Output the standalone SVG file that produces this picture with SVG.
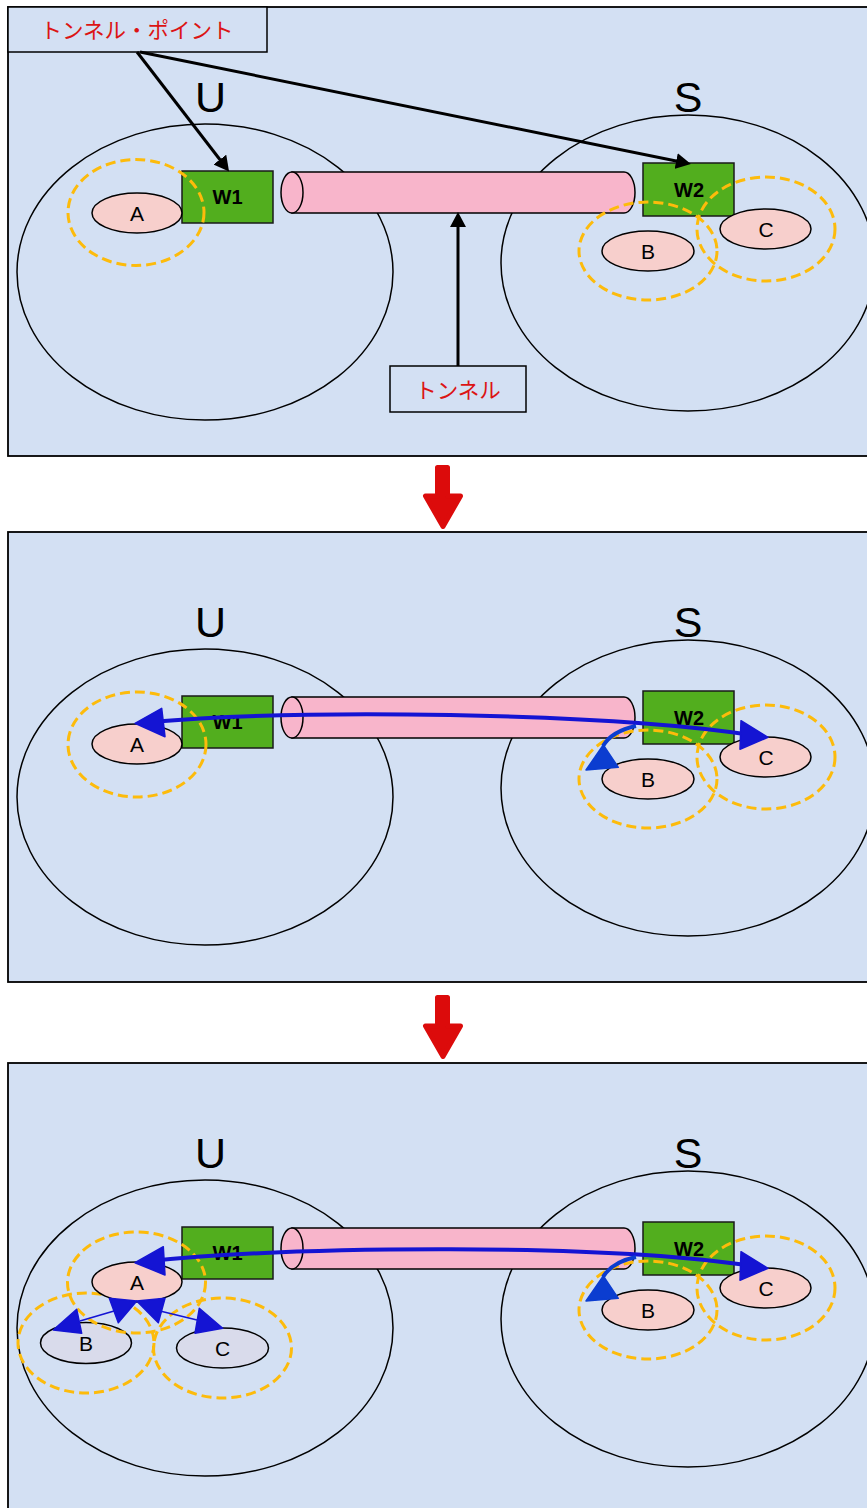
<svg xmlns="http://www.w3.org/2000/svg" width="867" height="1508" viewBox="0 0 867 1508">
<style>
.panel{fill:#d3e0f3;stroke:#000;stroke-width:1.8}
.domain{fill:none;stroke:#000;stroke-width:1.5}
.dlabel{font-family:"Liberation Sans",Arial,sans-serif;font-size:43px;fill:#000;text-anchor:middle}
.tube{fill:#f8b5cb;stroke:#000;stroke-width:1.5}
.gw{fill:#52ae1e;stroke:#1a1a1a;stroke-width:1.5}
.gwt{font-family:"Liberation Sans",Arial,sans-serif;font-weight:bold;font-size:20px;text-anchor:middle;fill:#000}
.host{fill:#f7cfcc;stroke:#000;stroke-width:1.5}
.host2{fill:#d9dbeb;stroke:#000;stroke-width:1.5}
.ht{font-family:"Liberation Sans",Arial,sans-serif;font-size:21px;text-anchor:middle;fill:#000}
.ring{fill:none;stroke:#fdbb0b;stroke-width:3;stroke-dasharray:10 5}
.note{fill:#d3e0f3;stroke:#000;stroke-width:1.5}
.nt{font-family:"Liberation Sans","Noto Sans CJK JP",sans-serif;font-size:21.5px;fill:#dc1414;text-anchor:middle}
.ptr{fill:none;stroke:#000;stroke-width:3}
.flow{fill:none;stroke:#1414d3;stroke-width:4}
.flowb{fill:none;stroke:#0b3dd0;stroke-width:4}
.hd{fill:#1414d3;stroke:#1414d3;stroke-width:1.5;stroke-linejoin:round}
.hdb{fill:#0b3dd0;stroke:#0b3dd0;stroke-width:1.5;stroke-linejoin:round}
.thin{fill:none;stroke:#1414d3;stroke-width:1.6}
.step{fill:#dc0b0b;stroke:#dc0b0b;stroke-width:5;stroke-linejoin:round}
</style>
<defs>
  <marker id="ah" viewBox="0 0 15 16" refX="10" refY="8" markerWidth="15" markerHeight="16" markerUnits="userSpaceOnUse" orient="auto">
    <path d="M0,0 L15,8 L0,16 z" fill="#000"/>
  </marker>
  <path id="stepArrow" d="M437.5,467.5 H447.5 V496 H460.5 L443,526.5 L425.5,496 H437.5 Z"/>
</defs>

<!-- backgrounds -->
<rect class="panel" x="8" y="7" width="870" height="449"/>
<rect class="panel" x="8" y="532" width="870" height="450"/>
<rect class="panel" x="8" y="1063" width="870" height="460"/>

<!-- stage 1 -->
<g id="stage1">
  <g id="s1-U"><ellipse class="domain" cx="205" cy="272" rx="188" ry="148"/><text class="dlabel" x="210.5" y="112">U</text></g>
  <g id="s1-S"><ellipse class="domain" cx="688" cy="263" rx="187" ry="148"/><text class="dlabel" x="688" y="112">S</text></g>
  <g id="s1-tunnel"><path class="tube" d="M292,172 H624 A11,20.5 0 0 1 624,213 H292 Z"/><ellipse class="tube" cx="292" cy="192.5" rx="11" ry="20.5"/></g>
  <g id="s1-W1"><rect class="gw" x="182" y="171" width="91" height="52"/><text class="gwt" x="227.5" y="204">W1</text></g>
  <g id="s1-W2"><rect class="gw" x="643" y="163" width="91" height="53"/><text class="gwt" x="689" y="197">W2</text></g>
  <g id="s1-A"><ellipse class="host" cx="137" cy="213" rx="45" ry="20"/><text class="ht" x="137" y="220.5">A</text></g>
  <g id="s1-B"><ellipse class="host" cx="648" cy="251" rx="46" ry="20"/><text class="ht" x="648" y="258.5">B</text></g>
  <g id="s1-C"><ellipse class="host" cx="765.5" cy="229" rx="45.5" ry="20"/><text class="ht" x="766" y="236.5">C</text></g>
  <g id="s1-rings">
    <ellipse class="ring" cx="136" cy="212.5" rx="68" ry="53"/>
    <ellipse class="ring" cx="648" cy="251" rx="69" ry="49"/>
    <ellipse class="ring" cx="766" cy="229" rx="69" ry="52"/>
  </g>
  <g id="s1-tp-label"><rect class="note" x="8" y="7" width="259" height="45"/><text class="nt" x="137" y="37.5">トンネル・ポイント</text></g>
  <g id="s1-t-label"><rect class="note" x="390" y="366" width="136" height="46"/><text class="nt" x="458" y="398">トンネル</text></g>
  <g id="s1-connectors">
    <path class="ptr" d="M137,52 L226,167.5" marker-end="url(#ah)"/>
    <path class="ptr" d="M140,52 L686,163" marker-end="url(#ah)"/>
    <path class="ptr" d="M458,366 L458,217" marker-end="url(#ah)"/>
  </g>
</g>

<!-- step arrows -->
<g id="steps">
  <use href="#stepArrow" class="step"/>
  <use href="#stepArrow" class="step" transform="translate(0,530)"/>
</g>

<!-- stage 2 -->
<g id="stage2" transform="translate(0,525)">
  <g id="s2-U"><ellipse class="domain" cx="205" cy="272" rx="188" ry="148"/><text class="dlabel" x="210.5" y="112">U</text></g>
  <g id="s2-S"><ellipse class="domain" cx="688" cy="263" rx="187" ry="148"/><text class="dlabel" x="688" y="112">S</text></g>
  <g id="s2-tunnel"><path class="tube" d="M292,172 H624 A11,20.5 0 0 1 624,213 H292 Z"/><ellipse class="tube" cx="292" cy="192.5" rx="11" ry="20.5"/></g>
  <g id="s2-W1"><rect class="gw" x="182" y="171" width="91" height="52"/><text class="gwt" x="227.5" y="204">W1</text></g>
  <g transform="translate(0,6)">
    <g id="s2-A"><ellipse class="host" cx="137" cy="213" rx="45" ry="20"/><text class="ht" x="137" y="220.5">A</text></g>
    <ellipse class="ring" cx="137" cy="213.5" rx="69" ry="52.5"/>
  </g>
  <g transform="translate(0,3)">
    <g id="s2-W2"><rect class="gw" x="643" y="163" width="91" height="53"/><text class="gwt" x="689" y="197">W2</text></g>
    <g id="s2-B"><ellipse class="host" cx="648" cy="251" rx="46" ry="20"/><text class="ht" x="648" y="258.5">B</text></g>
    <g id="s2-C"><ellipse class="host" cx="765.5" cy="229" rx="45.5" ry="20"/><text class="ht" x="766" y="236.5">C</text></g>
    <ellipse class="ring" cx="648" cy="251" rx="69" ry="49"/>
    <ellipse class="ring" cx="766" cy="229" rx="69" ry="52"/>
  </g>
  <g id="s2-connectors">
    <path class="flow" d="M150,197 C300,184 600,187 752,210"/>
    <polygon class="hd" points="768,212.3 741,195.7 740,224.3"/>
    <polygon class="hd" points="135,198.3 161.7,183.3 165,211.7"/>
    <path class="flowb" d="M636,201 Q612,206 603,221"/>
    <polygon class="hdb" points="586,245 603.3,220 618.3,242.3"/>
  </g>
</g>

<!-- stage 3 -->
<g id="stage3" transform="translate(0,1056)">
  <g id="s3-U"><ellipse class="domain" cx="205" cy="272" rx="188" ry="148"/><text class="dlabel" x="210.5" y="112">U</text></g>
  <g id="s3-S"><ellipse class="domain" cx="688" cy="263" rx="187" ry="148"/><text class="dlabel" x="688" y="112">S</text></g>
  <g id="s3-tunnel"><path class="tube" d="M292,172 H624 A11,20.5 0 0 1 624,213 H292 Z"/><ellipse class="tube" cx="292" cy="192.5" rx="11" ry="20.5"/></g>
  <g id="s3-W1"><rect class="gw" x="182" y="171" width="91" height="52"/><text class="gwt" x="227.5" y="204">W1</text></g>
  <g id="s3-B-local"><ellipse class="host2" cx="86" cy="287" rx="45.5" ry="20.5"/><text class="ht" x="86" y="294.5">B</text></g>
  <g id="s3-C-local"><ellipse class="host2" cx="222.5" cy="292" rx="46" ry="20"/><text class="ht" x="222.5" y="299.5">C</text></g>
  <ellipse class="ring" cx="86" cy="287" rx="68" ry="50"/>
  <ellipse class="ring" cx="222.5" cy="292" rx="69" ry="50"/>
  <g transform="translate(0,13)">
    <g id="s3-A"><ellipse class="host" cx="137" cy="213" rx="45" ry="20"/><text class="ht" x="137" y="220.5">A</text></g>
    <ellipse class="ring" cx="136.5" cy="213.5" rx="69" ry="50.5"/>
  </g>
  <g transform="translate(0,3)">
    <g id="s3-W2"><rect class="gw" x="643" y="163" width="91" height="53"/><text class="gwt" x="689" y="197">W2</text></g>
    <g id="s3-B"><ellipse class="host" cx="648" cy="251" rx="46" ry="20"/><text class="ht" x="648" y="258.5">B</text></g>
    <g id="s3-C"><ellipse class="host" cx="765.5" cy="229" rx="45.5" ry="20"/><text class="ht" x="766" y="236.5">C</text></g>
    <ellipse class="ring" cx="648" cy="251" rx="69" ry="49"/>
    <ellipse class="ring" cx="766" cy="229" rx="69" ry="52"/>
  </g>
  <g id="s3-connectors">
    <path class="flow" d="M150,205 C300,190 600,187 752,210"/>
    <polygon class="hd" points="768,212.3 741,195.7 740,224.3"/>
    <polygon class="hd" points="135,206.7 163.3,190.7 165,219"/>
    <path class="flowb" d="M636,201 Q612,206 603,221"/>
    <polygon class="hdb" points="586,245 603.3,220 618.3,242.3"/>
    <path class="thin" d="M80,265 L114,255"/>
    <path class="thin" d="M160,255 L197,264"/>
    <polygon class="hd" points="53.3,274 76.7,253.3 81.7,277.3"/>
    <polygon class="hd" points="136.7,245 109.3,242.3 118.3,266.7"/>
    <polygon class="hd" points="136.7,245 165,242.3 158.3,266.7"/>
    <polygon class="hd" points="222.7,272.3 199.3,252.3 195,277.3"/>
  </g>
</g>
</svg>
